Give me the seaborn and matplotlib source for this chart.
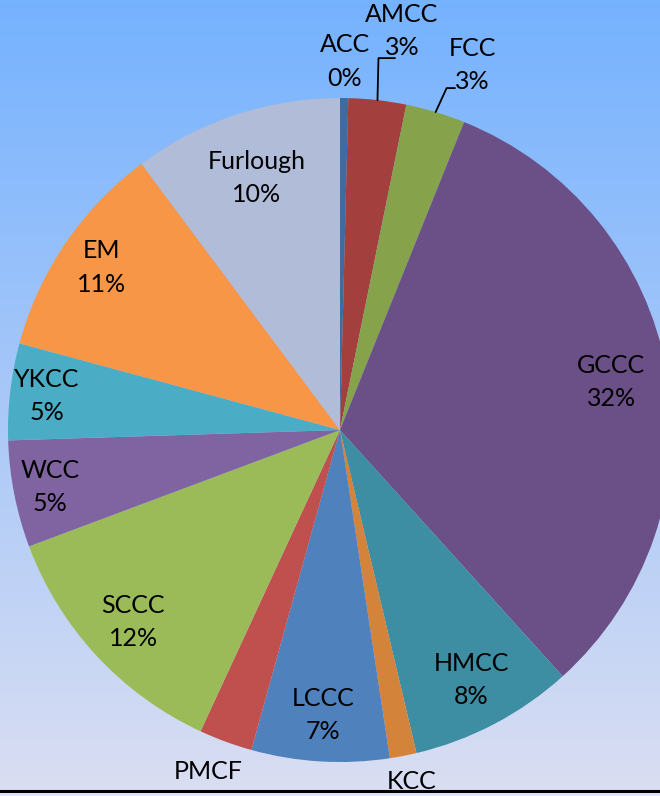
import matplotlib
matplotlib.use("Agg")
import matplotlib.pyplot as plt
import numpy as np
import seaborn as sns
from matplotlib.colors import LinearSegmentedColormap

sns.set_style("white")
plt.rcParams['font.family'] = ['Lato', 'DejaVu Sans']

# data, clockwise from 12 o'clock
names = ["ACC", "AMCC", "FCC", "GCCC", "HMCC", "KCC", "LCCC", "PMCF",
         "SCCC", "WCC", "YKCC", "EM", "Furlough"]
shares = [0.4, 2.8, 2.9, 32.2, 8.0, 1.3, 6.7, 2.6, 12.4, 5.2, 4.7, 10.6, 10.2]
colors = ["#3F6BA0", "#A3403D", "#86A24B", "#6A5087", "#3D8DA3", "#D4833A",
          "#4F81BD", "#C0504D", "#9BBB59", "#8064A2", "#4BACC6", "#F79646",
          "#B0BCD8"]

# label radial distance (fraction of radius)
label_dist = {"ACC": 1.11, "PMCF": 1.15, "KCC": 1.13,
              "GCCC": 0.83, "HMCC": 0.85, "LCCC": 0.86, "SCCC": 0.85,
              "WCC": 0.89, "YKCC": 0.89, "EM": 0.87, "Furlough": 0.80}
# labels hung on a leader line: (knee dx, knee dy, end x, text dx, text dy)
leaders = {"AMCC": (1, 42, 395, 7, 27), "FCC": (11, 24, 455, 17, 23)}

W, H = 660, 796
fig = plt.figure(figsize=(W / 100, H / 100), dpi=100)

# gradient background
bg = fig.add_axes([0, 0, 1, 1])
cmap = LinearSegmentedColormap.from_list("bg", ["#DADEF2", "#75B2FF"])
grad = np.linspace(0, 1, 256).reshape(-1, 1)
bg.imshow(grad, aspect="auto", cmap=cmap, origin="lower", extent=[0, 1, 0, 1])
bg.set_xlim(0, 1)
bg.set_ylim(0, 1)
bg.axis("off")

ax = fig.add_axes([0, 0, 1, 1])
cx, cy, r = 340, H - 430, 332
wedges, _ = ax.pie(shares, colors=colors, startangle=90, counterclock=False,
                   center=(cx, cy), radius=r, frame=True,
                   wedgeprops=dict(linewidth=0))
ax.set_xlim(0, W)
ax.set_ylim(0, H)
ax.set_aspect("equal")
ax.axis("off")

fs = 18
for w, name, val in zip(wedges, names, shares):
    mid = np.deg2rad((w.theta1 + w.theta2) / 2)
    if name in leaders:
        kx, ky, tx, ox, oy = leaders[name]
        x0 = cx + r * np.cos(mid)
        y0 = cy + r * np.sin(mid)
        ax.plot([x0, x0 + kx, tx], [y0, y0 + ky, y0 + ky], color="black", lw=1.3)
        x, y = tx + ox, y0 + ky + oy
    else:
        d = label_dist[name]
        x = cx + d * r * np.cos(mid)
        y = cy + d * r * np.sin(mid)
    ax.text(x, y, f"{name}\n{val:.0f}%", ha="center", va="center",
            fontsize=fs, linespacing=1.55, color="black", zorder=3)

# bottom strip and line drawn over the cut-off labels
ax.axhspan(0, 5, color="#DCE6F8", zorder=5)
ax.axhline(5.5, color="black", lw=2.2, zorder=6)

fig.savefig("out.png", dpi=100)
